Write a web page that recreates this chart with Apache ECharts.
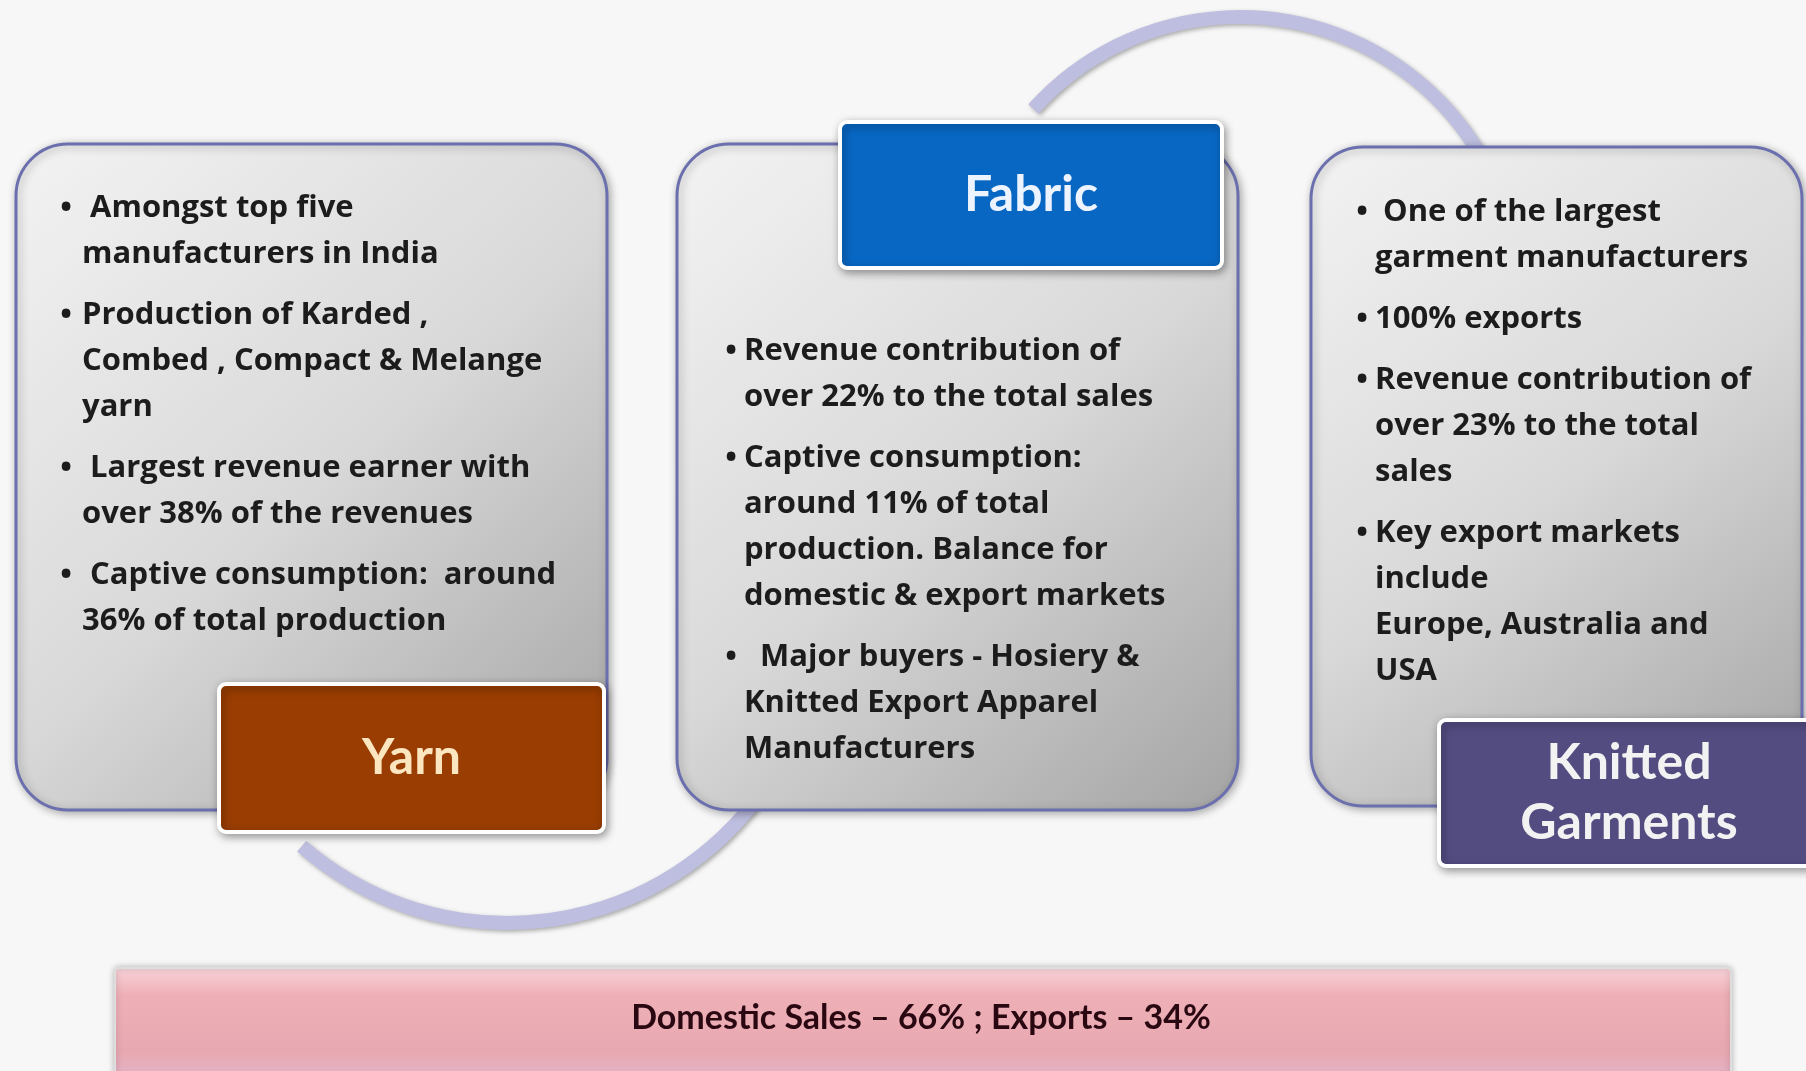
<!DOCTYPE html>
<html>
<head>
<meta charset="utf-8">
<script src="https://cdn.jsdelivr.net/npm/echarts@6/dist/echarts.min.js"></script>
<style>
html, body { margin: 0; padding: 0; background: #f7f7f7; }
#main { width: 1806px; height: 1071px; }
</style>
</head>
<body>
<div id="main"></div>
<script>
// bullet texts per segment (one inner array per bullet, one string per line)
var yarnPoints = [
    [' Amongst top five', 'manufacturers in India'],
    ['Production of Karded ,', 'Combed , Compact & Melange', 'yarn'],
    [' Largest revenue earner with', 'over 38% of the revenues'],
    [' Captive consumption:  around', '36% of total production']
];
var fabricPoints = [
    ['Revenue contribution of', 'over 22% to the total sales'],
    ['Captive consumption:', 'around 11% of total', 'production. Balance for', 'domestic & export markets'],
    ['  Major buyers - Hosiery &', 'Knitted Export Apparel', 'Manufacturers']
];
var garmentPoints = [
    [' One of the largest', 'garment manufacturers'],
    ['100% exports'],
    ['Revenue contribution of', 'over 23% to the total', 'sales'],
    ['Key export markets', 'include', 'Europe, Australia and', 'USA']
];
var segmentNames = ['Yarn', 'Fabric', 'Knitted\nGarments'];
var salesSplit = 'Domestic Sales \u2013 66% ; Exports \u2013 34%';

var bodyFont = 'bold 31px "Open Sans"';
var ink = '#1c1c1c';
var lineGap = 46, paraGap = 61;

function boxFill() {
    return new echarts.graphic.LinearGradient(0, 0, 1, 1, [
        {offset: 0, color: '#f3f3f3'},
        {offset: 0.5, color: '#d9d9d9'},
        {offset: 1, color: '#a4a4a4'}
    ]);
}

function panel(x, y, w, h) {
    return {
        type: 'rect',
        shape: {x: x, y: y, width: w, height: h, r: 52},
        style: {
            fill: boxFill(), stroke: '#6b6fae', lineWidth: 3,
            shadowBlur: 8, shadowColor: 'rgba(0,0,0,0.3)', shadowOffsetX: 2, shadowOffsetY: 2
        }
    };
}

function label(x, y, w, h, color, text, tcolor, size) {
    return [{
        type: 'rect',
        shape: {x: x, y: y, width: w, height: h, r: 7},
        style: {
            fill: color, stroke: '#ffffff', lineWidth: 4,
            shadowBlur: 8, shadowColor: 'rgba(0,0,0,0.35)', shadowOffsetX: 2, shadowOffsetY: 3
        }
    }, {
        type: 'text',
        x: x + w / 2, y: y + h / 2,
        style: {
            text: text, font: 'bold ' + size + 'px Lato', fill: tcolor,
            align: 'center', verticalAlign: 'middle', lineHeight: 60
        }
    }];
}

function bullets(points, bx, tx, y0) {
    var els = [];
    var y = y0;
    points.forEach(function (lines) {
        els.push({
            type: 'text', x: bx, y: y,
            style: {text: '\u2022', font: bodyFont, fill: ink, align: 'center', verticalAlign: 'middle'}
        });
        lines.forEach(function (line, i) {
            els.push({
                type: 'text', x: tx, y: y,
                style: {text: line, font: bodyFont, fill: ink, verticalAlign: 'middle'}
            });
            y += (i === lines.length - 1) ? paraGap : lineGap;
        });
    });
    return els;
}

function arc(cx, cy, r, a0, a1) {
    return {
        type: 'arc',
        shape: {cx: cx, cy: cy, r: r, startAngle: a0 * Math.PI / 180, endAngle: a1 * Math.PI / 180, clockwise: true},
        style: {
            fill: 'none', stroke: '#bebee0', lineWidth: 14,
            shadowBlur: 4, shadowColor: 'rgba(110,110,110,0.55)', shadowOffsetX: 2, shadowOffsetY: 2
        }
    };
}

var graphics = [];
graphics.push(arc(507, 610, 313, 30, 131));
graphics.push(arc(1240, 295, 278, 222, 333));

graphics.push(panel(16, 144, 591, 666));
graphics.push(panel(677, 144, 561, 666));
graphics.push(panel(1311, 147, 491, 659));

graphics = graphics.concat(label(219, 684, 385, 148, '#993d02', segmentNames[0], '#fce6bf', 50));
graphics = graphics.concat(label(840, 122, 382, 146, '#0867c3', segmentNames[1], '#eef4ff', 50));
graphics = graphics.concat(label(1439, 720, 380, 146, '#524c81', segmentNames[2], '#f2f2f2', 50));

graphics = graphics.concat(bullets(yarnPoints, 66, 82, 208));
graphics = graphics.concat(bullets(fabricPoints, 731, 744, 351));
graphics = graphics.concat(bullets(garmentPoints, 1362, 1375, 212));

// bottom bar
graphics.push({
    type: 'rect',
    shape: {x: 115, y: 968, width: 1616, height: 110, r: 4},
    style: {
        fill: new echarts.graphic.LinearGradient(0, 0, 0, 1, [
            {offset: 0, color: '#f8d4da'},
            {offset: 0.25, color: '#eeb0b6'},
            {offset: 0.75, color: '#e8a8b2'},
            {offset: 1, color: '#e2b4c6'}
        ]),
        stroke: '#dddddd', lineWidth: 2,
        shadowBlur: 6, shadowColor: 'rgba(0,0,0,0.25)'
    }
});
graphics.push({
    type: 'text', x: 921, y: 1018,
    style: {text: salesSplit, font: 'bold 34px Lato', fill: '#2a0812', align: 'center', verticalAlign: 'middle'}
});

var chart = echarts.init(document.getElementById('main'));
chart.setOption({
    backgroundColor: '#f7f7f7',
    animation: false,
    graphic: graphics
});
</script>
</body>
</html>
